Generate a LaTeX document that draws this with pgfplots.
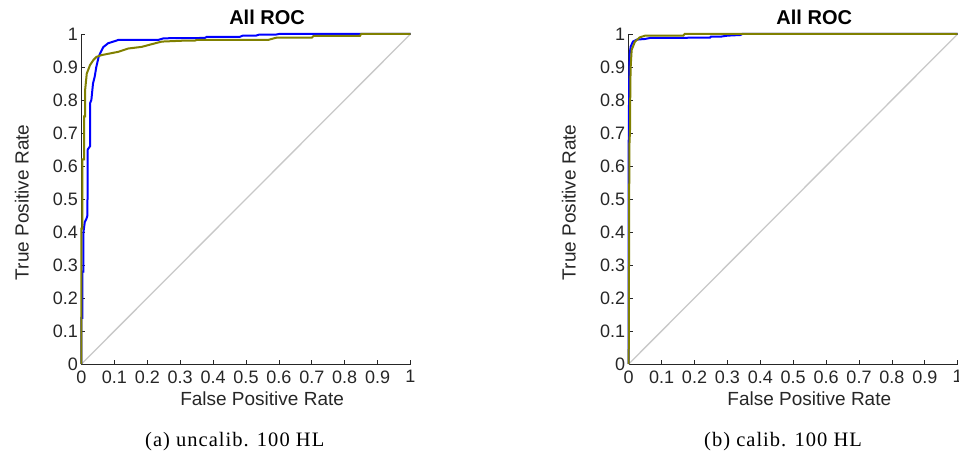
\documentclass[border=0pt]{standalone}
\usepackage{fontspec}
\setmainfont{Liberation Sans}
\newfontfamily\capfont[LetterSpace=5]{Liberation Serif}
\usepackage{pgfplots}
\pgfplotsset{compat=1.18}
\definecolor{mblue}{RGB}{0,0,255}
\definecolor{molive}{RGB}{128,128,0}
\definecolor{maxis}{RGB}{38,38,38}
\definecolor{mdiag}{RGB}{200,200,200}
\pgfplotsset{
  rocaxis/.style={
    scale only axis, width=329pt, height=330pt,
    xmin=0, xmax=1, ymin=0, ymax=1,
    axis lines=left, axis line style={-, draw=maxis, line width=0.8pt},
    xtick={0,0.1,0.2,0.3,0.4,0.5,0.6,0.7,0.8,0.9,1},
    ytick={0,0.1,0.2,0.3,0.4,0.5,0.6,0.7,0.8,0.9,1},
    tick align=inside, major tick length=4pt,
    major tick style={draw=maxis, line width=0.8pt},
    /pgf/number format/assume math mode=true,
    ticklabel style={font=\fontsize{18}{21}\selectfont, text=maxis},
    xticklabel style={yshift=-3pt},
    clip=false,
    every axis title/.style={at={(axis description cs:0.564,1.029)}, anchor=base,
      font=\fontsize{20}{24}\selectfont\bfseries},
    every axis x label/.style={at={(axis description cs:0.549,-0.1264)}, anchor=base,
      font=\fontsize{19}{22}\selectfont, text=maxis},
    every axis y label/.style={at={(axis description cs:-0.161,0.49)}, rotate=90, anchor=base,
      font=\fontsize{19}{22}\selectfont, text=maxis},
    title={All ROC}, xlabel={False Positive Rate}, ylabel={True Positive Rate},
  },
  diag/.style={draw=mdiag, line width=1.3pt},
  bluec/.style={draw=mblue, line width=2pt},
  olivec/.style={draw=molive, line width=2pt},
}
\begin{document}
\begin{tikzpicture}
\useasboundingbox (0,0) rectangle (959pt,455pt);
\begin{axis}[rocaxis, at={(81.5pt,91pt)}, anchor=south west]
  \addplot[diag] coordinates {(0,0) (1,1)};
  \addplot[bluec] coordinates {
    (0,0) (0,0.14) (0.003,0.14) (0.003,0.28) (0.006,0.28) (0.006,0.40)
    (0.010,0.43) (0.015,0.44) (0.018,0.45) (0.019,0.65) (0.026,0.66)
    (0.026,0.79) (0.030,0.80) (0.035,0.85) (0.040,0.87) (0.045,0.90)
    (0.052,0.93) (0.056,0.94) (0.066,0.96) (0.081,0.972) (0.100,0.978)
    (0.112,0.982) (0.233,0.982) (0.250,0.987) (0.375,0.988) (0.380,0.991)
    (0.480,0.991) (0.490,0.995) (0.530,0.995) (0.540,0.998) (0.590,0.998)
    (0.600,1) (1,1)};
  \addplot[olivec] coordinates {
    (0,0) (0,0.41) (0.003,0.41) (0.003,0.62) (0.008,0.62) (0.008,0.75)
    (0.011,0.75) (0.011,0.83) (0.016,0.88) (0.026,0.906) (0.036,0.921)
    (0.046,0.931) (0.061,0.936) (0.081,0.940) (0.112,0.946) (0.142,0.956)
    (0.183,0.961) (0.213,0.969) (0.244,0.977) (0.315,0.980) (0.345,0.980)
    (0.350,0.982) (0.567,0.982) (0.593,0.989) (0.700,0.989) (0.705,0.994)
    (0.846,0.994) (0.850,1) (1,1)};
  \node[anchor=base, font=\capfont\fontsize{20.5}{24}\selectfont]
    at (axis description cs:0.4657,-0.2485) {(a) uncalib. 100 HL};
\end{axis}
\begin{axis}[rocaxis, at={(628.7pt,91pt)}, anchor=south west]
  \addplot[diag] coordinates {(0,0) (1,1)};
  \addplot[bluec] coordinates {
    (0,0) (0,0.66) (0.001,0.80) (0.002,0.90) (0.003,0.94) (0.006,0.962)
    (0.013,0.977) (0.025,0.983) (0.050,0.985) (0.065,0.988) (0.247,0.989)
    (0.250,0.992) (0.280,0.992) (0.300,0.995) (0.340,0.997) (0.345,1) (1,1)};
  \addplot[olivec] coordinates {
    (0,0) (0.002,0.66) (0.004,0.71) (0.005,0.85) (0.006,0.90) (0.009,0.952)
    (0.019,0.977) (0.034,0.990) (0.050,0.995) (0.166,0.995) (0.170,1) (1,1)};
  \node[anchor=base, font=\capfont\fontsize{20.5}{24}\selectfont]
    at (axis description cs:0.469,-0.2485) {(b) calib. 100 HL};
\end{axis}
\end{tikzpicture}
\end{document}
